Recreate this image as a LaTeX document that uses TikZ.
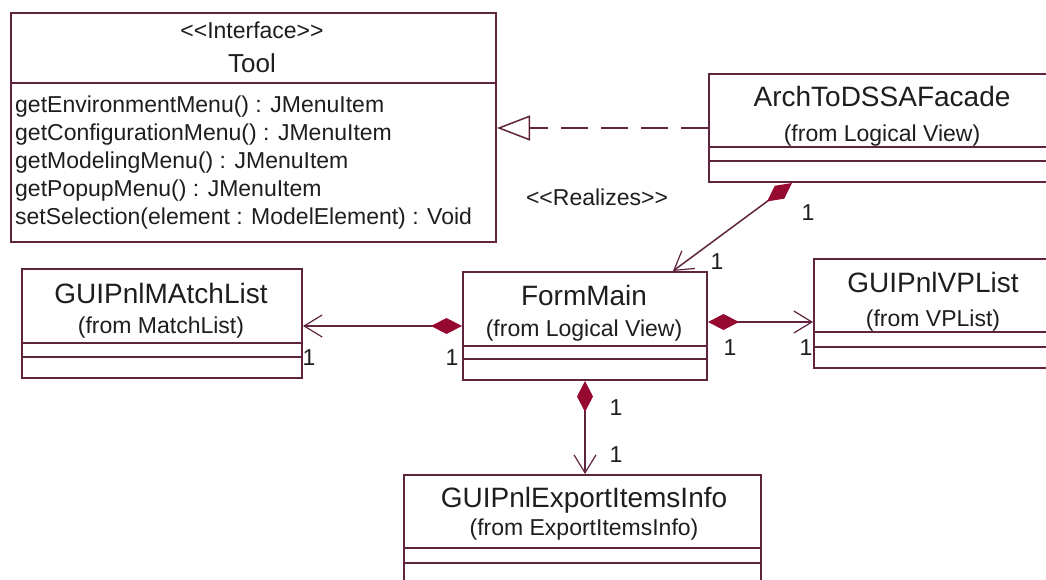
\documentclass[tikz,border=0pt]{standalone}
\usepackage{fontspec}
\setmainfont{Liberation Sans}
\usetikzlibrary{arrows.meta}
\definecolor{umlline}{RGB}{96,36,62}
\definecolor{umlfill}{RGB}{150,10,50}
\definecolor{umltext}{RGB}{30,30,30}
\tikzset{
  classbox/.style={draw=umlline, line width=2pt, fill=white, rectangle, inner sep=0pt, anchor=north west},
  comprule/.style={draw=umlline, line width=2pt},
  cname/.style={anchor=base, text=umltext, font=\fontsize{28}{30}\selectfont, inner sep=0pt},
  cfrom/.style={anchor=base, text=umltext, font=\fontsize{23}{25}\selectfont, inner sep=0pt},
  stereo/.style={anchor=base, text=umltext, font=\fontsize{23}{25}\selectfont, inner sep=0pt},
  op/.style={anchor=base west, text=umltext, font=\fontsize{23}{25}\selectfont, inner sep=0pt},
  mult/.style={text=umltext, font=\fontsize{23}{25}\selectfont, inner sep=0pt},
  compo/.style={draw=umlline, line width=1.5pt,
    {Diamond[length=31pt,width=16pt,fill=umlfill,color=umlfill]}-{Straight Barb[length=18pt,width=22pt,line width=1.2pt]}},
  realize/.style={draw=umlline, line width=1.5pt, dash pattern=on 27pt off 13pt,
    -{Triangle[open,length=33pt,width=25pt,line width=1.5pt]}},
}
\begin{document}
\begin{tikzpicture}[x=1pt,y=-1pt]
\useasboundingbox (0,0) rectangle (1046,579);
\clip (0,0) rectangle (1046,579);
\fill[white] (0,0) rectangle (1046,579);

% class boxes
\node[classbox, minimum width=485, minimum height=229] (tool) at (10,12) {};
\node[classbox, minimum width=350, minimum height=108] (arch) at (708,73) {};
\node[classbox, minimum width=244, minimum height=108] (form) at (462,271) {};
\node[classbox, minimum width=280, minimum height=109] (match) at (21,268) {};
\node[classbox, minimum width=245, minimum height=109] (vp) at (813,258) {};
\node[classbox, minimum width=357, minimum height=130] (export) at (403,474) {};

% compartment separators
\draw[comprule] ([yshift=-71pt]tool.north west) -- ([yshift=-71pt]tool.north east);
\foreach \n/\a/\b in {arch/74/88, form/75/88, match/75/89, vp/74/89, export/74/89}{
  \draw[comprule] ([yshift=-\a pt]\n.north west) -- ([yshift=-\a pt]\n.north east);
  \draw[comprule] ([yshift=-\b pt]\n.north west) -- ([yshift=-\b pt]\n.north east);
}

% Tool interface
\node[stereo] (toolst) at (252,38) {<{}<Interface>{}>};
\node[anchor=base, text=umltext, font=\fontsize{26}{28}\selectfont, inner sep=0pt] (toolname) at (252,72) {Tool};
\node[op] (op1) at (15,112) {getEnvironmentMenu() : JMenuItem};
\node[op] (op2) at (15,140) {getConfigurationMenu() : JMenuItem};
\node[op] (op3) at (15,168) {getModelingMenu() : JMenuItem};
\node[op] (op4) at (15,196) {getPopupMenu() : JMenuItem};
\node[op] (op5) at (15,224) {setSelection(element : ModelElement) : Void};

% class names and packages
\node[cname] (archname) at (882,106) {ArchToDSSAFacade};
\node[cfrom] (archfrom) at (882,141) {(from Logical View)};
\node[cname] (formname) at (584,305) {FormMain};
\node[cfrom] (formfrom) at (584,336) {(from Logical View)};
\node[cname] (matchname) at (161,303) {GUIPnlMAtchList};
\node[cfrom] (matchfrom) at (161,333) {(from MatchList)};
\node[cname] (vpname) at (933,292) {GUIPnlVPList};
\node[cfrom] (vpfrom) at (933,326) {(from VPList)};
\node[cname] (exportname) at (584,507) {GUIPnlExportItemsInfo};
\node[cfrom] (exportfrom) at (584,535) {(from ExportItemsInfo)};

% realization
\draw[realize] (arch.west) -- (arch.west -| tool.east);
\node[stereo] (realizes) at (597,205) {<{}<Realizes>{}>};

% compositions
\draw[compo] ([xshift=84pt]arch.south west) -- ([xshift=211pt]form.north west);
\draw[compo] (form.west) -- (form.west -| match.east);
\draw[compo] ([yshift=4pt]form.east) -- ([yshift=4pt]form.east -| vp.west);
\draw[compo] (form.south) -- (form.south |- export.north);

% multiplicities
\node[mult] (m1) at (808,213) {1};
\node[mult] (m2) at (717,262) {1};
\node[mult] (m3) at (309,358) {1};
\node[mult] (m4) at (452,358) {1};
\node[mult] (m5) at (730,348) {1};
\node[mult] (m6) at (806,348) {1};
\node[mult] (m7) at (616,408) {1};
\node[mult] (m8) at (616,455) {1};
\end{tikzpicture}
\end{document}
